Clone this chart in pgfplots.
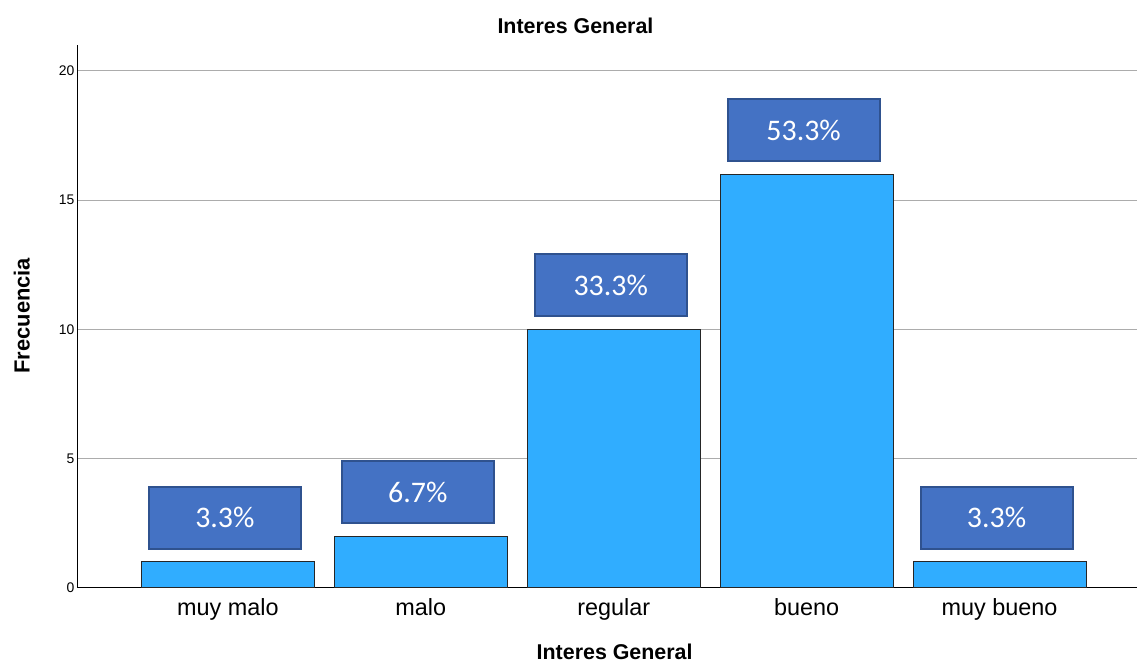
\documentclass[border=0pt]{standalone}
\usepackage{fontspec}
\setmainfont{Liberation Sans}
\newfontfamily\carlito{Carlito}
\usepackage{pgfplots}
\pgfplotsset{compat=1.18}
\usepackage{pgfplotstable}

\definecolor{barblue}{RGB}{48,173,255}
\definecolor{boxfill}{RGB}{68,114,196}
\definecolor{boxline}{RGB}{47,82,143}

% frecuencia y porcentaje por categoria
\pgfplotstableread{
x  y   pct
0  1   3.3
1  2   6.7
2  10  33.3
3  16  53.3
4  1   3.3
}\datos

\begin{document}
\begin{tikzpicture}
\begin{axis}[
    scale only axis,
    width=1059bp, height=543bp,
    xmin=-0.777, xmax=4.71,
    ymin=0, ymax=21,
    ybar, bar width=173bp, bar shift=0pt,
    xtick=data,
    xticklabels={muy malo, malo, regular, bueno, muy bueno},
    ytick={0,5,10,15,20},
    major tick length=0pt,
    ymajorgrids,
    grid style={gray!65, line width=1bp},
    axis x line*=bottom, axis y line*=left,
    axis line style={black, line width=1bp, -},
    /pgf/number format/assume math mode=true,
    xticklabel style={font=\fontsize{23.5}{26}\selectfont, yshift=-7bp},
    yticklabel style={font=\fontsize{14}{16}\selectfont},
    title={Interes General},
    title style={font=\bfseries\fontsize{21.5}{24}\selectfont,
        at={(axis description cs:0.470,1.025)}, anchor=center},
    xlabel={Interes General},
    xlabel style={font=\bfseries\fontsize{21.5}{24}\selectfont,
        at={(axis description cs:0.507,-0.118)}, anchor=center},
    ylabel={Frecuencia},
    ylabel style={font=\bfseries\fontsize{22}{24}\selectfont,
        at={(axis description cs:-0.053,0.501)}, anchor=center, rotate=0},
    point meta=explicit,
    nodes near coords={\pgfmathprintnumber[fixed, fixed zerofill, precision=1]{\pgfplotspointmeta}\%},
    every node near coord/.append style={
        anchor=south, yshift=12bp, xshift=-3bp,
        fill=boxfill, draw=boxline, line width=2bp,
        minimum width=152bp, minimum height=62bp,
        text=white, font=\carlito\fontsize{30}{32}\selectfont},
]
\addplot[fill=barblue, draw=black!85, line width=1bp]
    table[x=x, y=y, meta=pct] {\datos};
\end{axis}
\useasboundingbox ([xshift=-78bp, yshift=-74bp]current axis.south west)
    rectangle ([yshift=45bp]current axis.north east);
\end{tikzpicture}
\end{document}
